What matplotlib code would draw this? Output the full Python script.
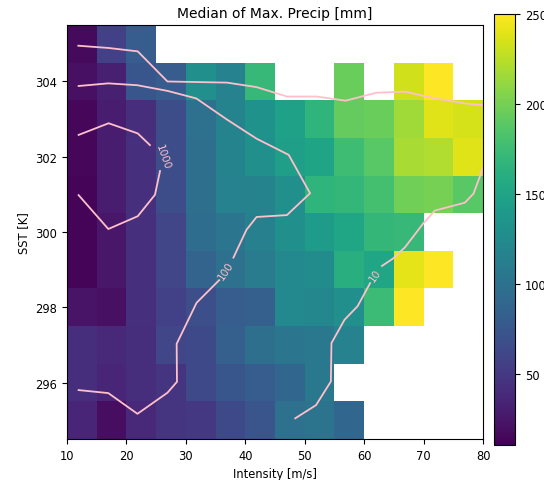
import numpy as np
import matplotlib
matplotlib.use("Agg")
import matplotlib.pyplot as plt

nan = np.nan

# Bin edges
intensity_edges = [10, 15, 20, 25, 30, 35, 40, 45, 50, 55, 60, 65, 70, 75, 80, 85]
sst_edges = [294.5, 295.5, 296.5, 297.5, 298.5, 299.5, 300.5, 301.5, 302.5, 303.5, 304.5, 305.5]

# Median of max precip [mm]; rows listed from SST 305 (top) down to 295 (bottom)
row_305 = [17, 56, 80, nan, nan, nan, nan, nan, nan, nan, nan, nan, nan, nan, nan]
row_304 = [20, 32, 75, 80, 130, 116, 171, nan, nan, 195, nan, 233, 250, nan, 233]
row_303 = [15, 30, 42, 66, 99, 118, 133, 147, 166, 193, 195, 216, 238, 235, 235]
row_302 = [15, 30, 44, 66, 97, 118, 130, 145, 150, 176, 188, 219, 221, 238, 188]
row_301 = [13, 30, 44, 66, 97, 116, 118, 130, 166, 169, 178, 198, 200, 188, nan]
row_300 = [13, 25, 44, 61, 95, 104, 114, 130, 142, 152, 169, 171, nan, nan, nan]
row_299 = [13, 25, 44, 61, 87, 99, 109, 123, 126, 162, 152, 240, 250, nan, nan]
row_298 = [23, 20, 44, 56, 68, 80, 82, 123, 121, 130, 174, 250, nan, nan, nan]
row_297 = [42, 37, 42, 61, 63, 82, 97, 104, 106, 116, nan, nan, nan, nan, nan]
row_296 = [42, 35, 42, 47, 63, 75, 80, 90, 106, nan, nan, nan, nan, nan, nan]
row_295 = [35, 18, 37, 47, 49, 63, 73, 99, 102, 90, nan, nan, nan, nan, nan]

# Sample-count contour paths (levels 10, 100, 1000), split where labels sit
c10_top_x = [11.9, 17.0, 21.9, 26.9, 36.9, 41.9, 47.0, 52.0, 56.9, 62.0, 66.9, 71.9, 76.8, 80.0]
c10_top_y = [304.95, 304.89, 304.80, 304.0, 303.97, 303.85, 303.6, 303.6, 303.49, 303.7, 303.73, 303.55, 303.42, 303.37]
c10_a_x = [48.4, 51.9, 54.4, 54.5, 56.7, 58.9, 61.0]
c10_a_y = [295.05, 295.4, 296.03, 297.05, 297.67, 298.03, 298.64]
c10_b_x = [63.0, 64.9, 66.9, 69.9, 71.9, 76.95, 78.4, 80.0]
c10_b_y = [299.1, 299.3, 299.6, 300.22, 300.57, 300.78, 301.02, 301.7]
c100_a_x = [11.95, 16.95, 21.85, 26.9, 31.75, 36.9, 41.9, 47.3, 50.9, 47.0, 41.9, 40.2, 38.0]
c100_a_y = [303.88, 303.95, 303.9, 303.75, 303.55, 302.99, 302.48, 302.05, 301.03, 300.45, 300.4, 300.06, 299.32]
c100_b_x = [35.6, 31.8, 28.45, 28.5, 26.9, 21.85, 16.95, 11.95]
c100_b_y = [298.72, 298.12, 297.03, 296.02, 295.73, 295.17, 295.72, 295.8]
c1000_a_x = [11.95, 17.0, 21.9, 23.95]
c1000_a_y = [302.58, 302.89, 302.62, 302.31]
c1000_b_x = [25.65, 24.8, 21.9, 16.95, 11.95]
c1000_b_y = [301.62, 300.99, 300.42, 300.08, 300.98]

label_text = ["1000", "100", "10"]
label_x = [26.1, 36.8, 61.8]
label_y = [302.0, 298.98, 298.85]
label_rot = [-71, 56, 55]

values = np.array([row_295, row_296, row_297, row_298, row_299, row_300,
                   row_301, row_302, row_303, row_304, row_305], dtype=float)

fig = plt.figure(figsize=(5.44, 4.81), dpi=100)
ax = fig.add_axes([0.1232, 0.0852, 0.7647, 0.8607])
cax = fig.add_axes([0.909, 0.0728, 0.0377, 0.896])

mesh = ax.pcolormesh(intensity_edges, sst_edges, np.ma.masked_invalid(values),
                     cmap="viridis", vmin=10.5, vmax=250)
ax.set_xlim(10, 80)
ax.set_ylim(294.5, 305.5)

line_kw = dict(color="pink", lw=1.3)
for xs, ys in [(c10_top_x, c10_top_y), (c10_a_x, c10_a_y), (c10_b_x, c10_b_y),
               (c100_a_x, c100_a_y), (c100_b_x, c100_b_y),
               (c1000_a_x, c1000_a_y), (c1000_b_x, c1000_b_y)]:
    ax.plot(xs, ys, **line_kw)

for t, x, y, r in zip(label_text, label_x, label_y, label_rot):
    ax.text(x, y, t, rotation=r, rotation_mode="anchor", ha="center", va="center",
            color="pink", fontsize=7.5)

ax.set_xticks([10, 20, 30, 40, 50, 60, 70, 80])
ax.set_yticks([296, 298, 300, 302, 304])
ax.tick_params(labelsize=8.3)
ax.set_title("Median of Max. Precip [mm]", fontsize=10)
ax.set_xlabel("Intensity [m/s]", fontsize=8.3)
ax.set_ylabel("SST [K]", fontsize=8.3)

cb = fig.colorbar(mesh, cax=cax)
cb.set_ticks([50, 100, 150, 200, 250])
cb.ax.tick_params(labelsize=8.3)

fig.savefig("out.png", dpi=100)
